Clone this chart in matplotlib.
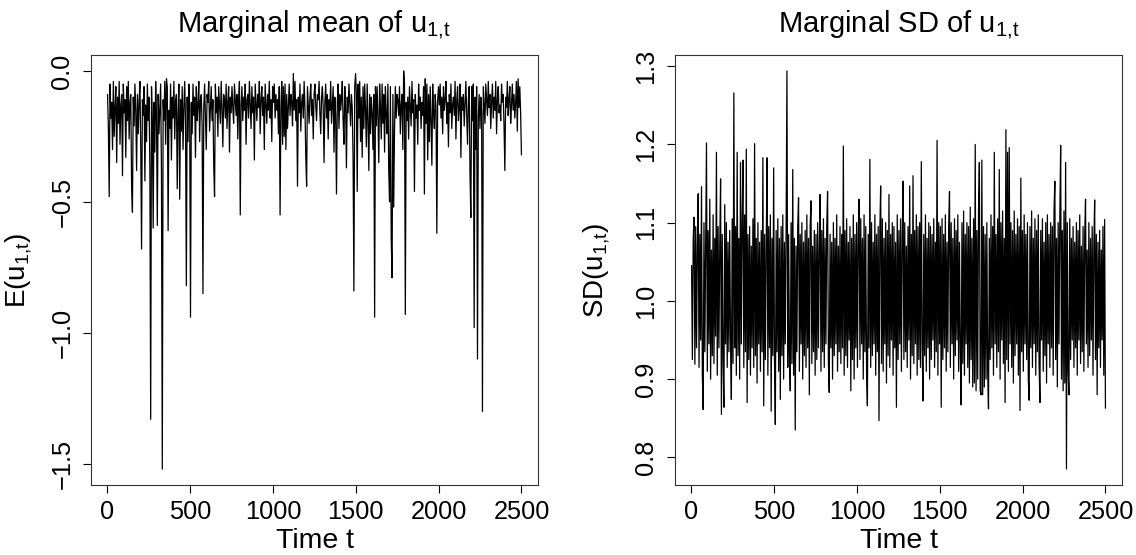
import numpy as np
import matplotlib
matplotlib.use("Agg")
import matplotlib.pyplot as plt

plt.rcParams['font.family'] = ['Liberation Sans', 'DejaVu Sans']
plt.rcParams['mathtext.fontset'] = 'custom'
plt.rcParams['mathtext.rm'] = 'Liberation Sans'
plt.rcParams['mathtext.it'] = 'Liberation Sans:italic'

# Marginal mean of u_{1,t}, read every 5 time steps (values in hundredths, negative)
mean_hundredths = [
    9,22,48,5,18,12,30,4,25,14, 6,35,10,20,4,28,13,9,40,5, 16,11,33,6,19,4,26,12,9,44,
    54,10,21,5,15,38,9,24,12,4, 29,68,11,17,6,42,13,27,5,19,
    10,36,133,6,20,60,12,31,4,17, 59,9,24,14,5,39,152,11,19,4, 28,3,6,61,15,22,5,34,10,18,
    4,26,12,9,45,16,5,49,11,23, 6,30,14,4,20,82,10,27,5,15,
    94,12,24,5,17,10,33,6,19,13, 4,27,11,9,21,85,14,5,18,30, 9,12,4,23,15,6,19,11,36,48,
    5,16,10,25,6,13,20,4,14,29, 9,11,18,5,22,12,6,31,10,16,
    6,14,20,5,11,17,9,26,12,4, 55,13,6,19,10,15,5,28,11,9, 18,4,13,22,6,16,10,34,5,12,
    19,9,14,4,24,11,6,17,10,30, 5,13,20,9,15,4,18,11,27,6,
    12,5,18,9,15,11,24,6,55,14, 4,28,6,25,5,30,9,22,13,5, 17,9,12,21,1,15,4,19,11,44,
    10,16,5,23,12,9,18,4,14,33, 44,6,13,20,10,5,17,11,26,9,
    5,13,19,9,11,4,16,24,10,6, 14,35,12,5,18,9,26,11,15,4, 20,13,6,31,10,17,47,12,5,22,
    9,15,11,4,19,28,6,13,37,10, 16,5,12,21,9,14,33,84,6,1,
    9,46,5,18,4,27,10,33,6,22, 5,15,29,5,19,38,9,24,10,16, 30,9,94,6,21,6,18,35,5,14,
    26,5,20,9,31,6,17,24,5,38, 50,6,64,79,9,52,22,6,18,9,
    11,17,6,24,13,9,30,0,5,93, 12,19,10,26,6,14,21,4,16,11, 46,9,18,13,28,5,15,10,22,12,
    17,6,47,3,20,5,34,9,27,6, 19,36,5,16,22,9,14,62,11,6,
    13,5,18,10,24,6,15,11,4,20, 12,29,9,16,5,22,13,10,17,4, 26,11,6,19,14,5,33,10,15,9,
    21,12,4,17,28,11,6,40,56,6, 19,5,98,10,30,6,110,18,9,22,
    10,16,130,6,13,20,5,11,17,4, 14,9,22,12,5,18,10,15,4,24, 11,6,16,13,19,5,12,9,21,38,
    10,14,4,17,11,6,20,13,5,15, 9,18,12,4,23,3,14,6,16,32,
]

# Marginal SD of u_{1,t}, read every 5 time steps (values in thousandths)
sd_thousandths = [
    1045,925,1080,1107,919,1095,940,1070,1137,915, 1085,950,1146,905,861,1100,935,1075,1202,910,
    1090,945,1130,900,1065,930,1110,920,1080,955, 1190,905,1095,940,1070,1156,855,1085,925,864,
    1123,945,1100,915,1075,935,1090,950,874,1105,
    920,1266,940,1095,905,1190,930,1080,900,1177, 945,1100,1180,915,1110,935,1194,870,1085,925,
    1095,905,1070,940,1105,915,1201,930,1080,895, 1100,945,1075,910,1090,935,1183,866,1085,925,
    1070,1183,905,1095,940,1110,859,1080,930,1170,
    925,842,1090,935,1105,910,1080,874,1095,930, 1110,900,1075,945,1090,1294,915,1085,940,885,
    1100,920,1168,905,1080,835,1070,935,1095,1132, 910,1085,945,1100,900,1075,930,1090,915,1110,
    940,1080,880,1095,1128,920,1070,935,1090,905,
    1085,925,1100,940,1070,1136,910,1090,935,1105, 915,1080,945,1095,1140,920,883,1085,940,1075,
    900,1100,930,1080,945,1110,910,1070,935,1095, 920,1085,940,1198,905,1090,930,1105,915,1075,
    950,1095,885,1080,925,1110,900,1085,940,1100,
    915,1090,1130,925,1105,945,1080,900,1110,935, 1095,910,866,1085,940,1181,915,1100,930,1075,
    945,1110,905,1085,935,1095,847,1090,1147,920, 1105,910,1080,945,1100,895,1090,930,1136,915,
    1085,950,1100,905,1095,940,1075,864,1110,925,
    1090,945,1105,910,1080,1153,925,1100,935,1070, 915,1095,950,1147,900,1085,930,1160,920,1090,
    945,1110,905,1095,925,1100,915,1178,950,872, 1085,930,1110,910,1080,940,1100,900,1095,925,
    1085,950,1105,915,1075,935,1205,905,1100,945,
    1095,864,1105,925,1085,940,1110,910,1075,935, 1095,1140,915,1100,945,1080,900,1105,930,1090,
    950,1110,910,1075,935,867,1100,920,1115,905, 1085,945,1100,915,1095,895,1120,925,1080,890,
    1105,895,1200,885,1090,900,1115,1177,885,880,
    1180,880,1095,890,1085,900,1100,910,862,1080, 925,1110,940,1095,905,1190,945,1085,915,1105,
    935,1168,900,1100,950,1115,920,1080,870,1219, 925,1190,910,1196,945,1100,915,1090,895,1115,
    930,1085,945,1105,905,1095,860,1157,935,1090,
    910,1110,945,1085,925,1100,900,873,1095,940, 1115,915,1080,945,1105,905,1090,935,1110,920,
    870,1090,950,1105,910,1075,930,1100,895,1110, 945,1085,915,1100,940,1095,905,1115,1153,925,
    1080,890,1100,945,1110,1199,900,1090,885,1115,
    895,1177,785,1100,910,880,1105,925,1080,950, 1095,915,1075,940,1100,905,1090,950,1110,920,
    1070,935,1095,910,1085,1130,945,1065,915,1100, 930,1080,950,1095,905,1070,1129,925,1085,880,
    1075,940,1090,915,1065,950,1095,905,1104,863,
]

mean_vals = -np.array(mean_hundredths, dtype=float) / 100.0
sd_vals = np.array(sd_thousandths, dtype=float) / 1000.0
t = np.linspace(1, 2500, len(mean_vals))

x_ticks = [0, 500, 1000, 1500, 2000, 2500]
mean_ticks = [0.0, -0.5, -1.0, -1.5]
sd_ticks = [0.8, 0.9, 1.0, 1.1, 1.2, 1.3]

W, H = 1136, 555
fig = plt.figure(figsize=(W / 100, H / 100), dpi=100)
ax1 = fig.add_axes([91 / W, (H - 485) / H, 447 / W, 430 / H])
ax2 = fig.add_axes([675 / W, (H - 485) / H, 447 / W, 430 / H])

FS = 18.3
for ax, vals, yt, title, ylab, lblx in [
    (ax1, mean_vals, mean_ticks, r'Marginal mean of u$_{\mathrm{1{,}t}}$', r'E(u$_{\mathrm{1{,}t}}$)', -0.128),
    (ax2, sd_vals, sd_ticks, r'Marginal SD of u$_{\mathrm{1{,}t}}$', r'SD(u$_{\mathrm{1{,}t}}$)', -0.141),
]:
    ax.plot(t, vals, color='black', lw=0.9)
    ax.set_xlim(1 - 0.04 * 2499, 2500 + 0.04 * 2499)
    lo, hi = vals.min(), vals.max()
    ax.set_ylim(lo - 0.04 * (hi - lo), hi + 0.04 * (hi - lo))
    ax.set_xticks(x_ticks)
    ax.set_xticklabels([str(v) for v in x_ticks])
    ax.set_yticks(yt)
    ax.set_yticklabels([f'{v:.1f}'.replace('-', '\u2212') for v in yt], rotation=90, va='center')
    ax.tick_params(axis='both', direction='out', length=6, width=0.8, labelsize=FS, colors='black')
    ax.tick_params(axis='x', pad=5)
    ax.tick_params(axis='y', pad=6)
    for s in ax.spines.values():
        s.set_linewidth(0.8)
        s.set_color('#333333')
    ax.set_title(title, fontsize=21, pad=17)
    ax.set_xlabel('Time t', fontsize=20.5)
    ax.xaxis.set_label_coords(0.5, -0.1)
    ax.set_ylabel(ylab, fontsize=20)
    ax.yaxis.set_label_coords(lblx, 0.5)

fig.savefig('out.png', dpi=100)
